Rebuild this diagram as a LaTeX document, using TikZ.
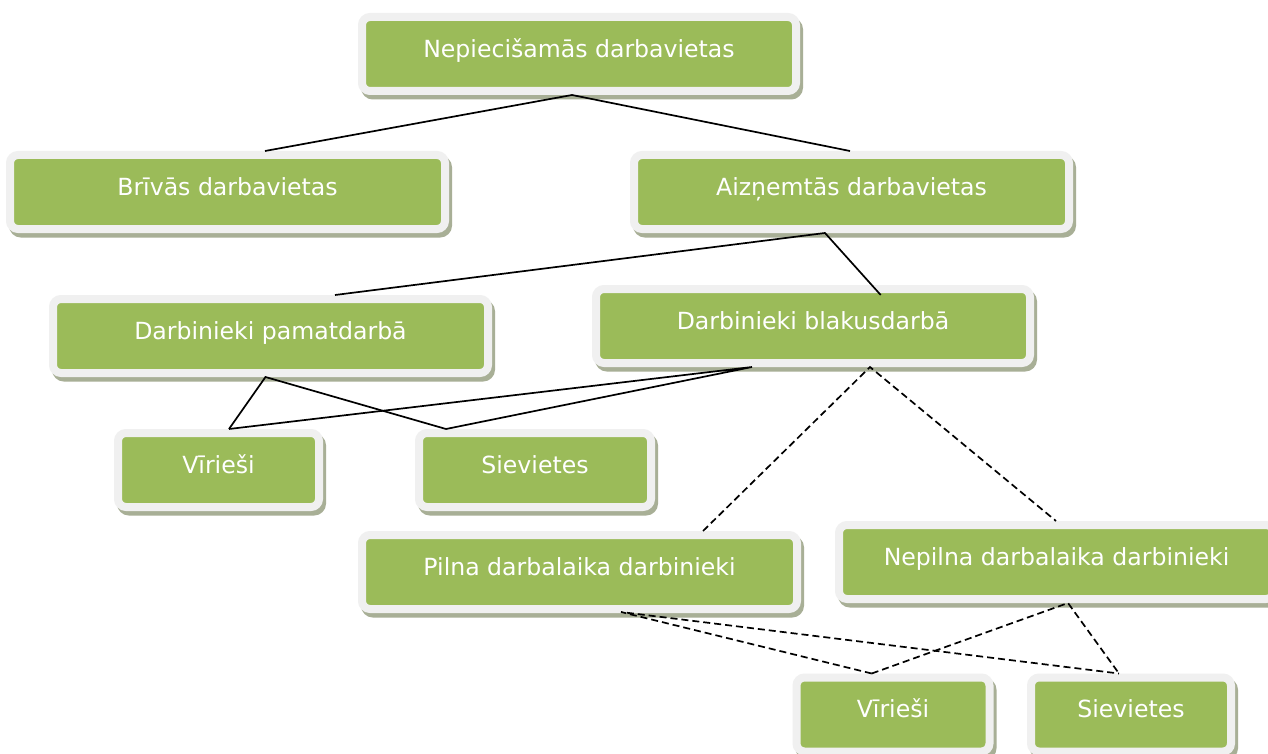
\documentclass[tikz,border=0pt]{standalone}
\usepackage{fontspec}
\setmainfont{DejaVu Sans}
\usetikzlibrary{calc}
\definecolor{boxgreen}{HTML}{9BBB59}
\definecolor{boxrim}{HTML}{F0F0F0}
\definecolor{boxshade}{HTML}{A8AF96}
\begin{document}
\begin{tikzpicture}[x=1pt,y=-1pt,
  gbox/.style={rectangle, rounded corners=8pt, fill=boxgreen, draw=boxrim, line width=8pt,
    text=white, font=\fontsize{23.6}{28}\selectfont, minimum height=74pt,
    text height=0.78em, text depth=0.14em, inner sep=0pt, anchor=center,
    preaction={draw=boxshade, fill=boxshade, line width=8pt,
      transform canvas={shift={(3pt,-4.5pt)}}}},
  link/.style={line width=1.7pt, black},
  dlink/.style={link, dash pattern=on 7pt off 4pt}]
\fill[white] (0,0) rectangle (1268,754);
\useasboundingbox (0,0) rectangle (1268,754);

\node[gbox, minimum width=434pt] (n1) at (579,54) {Nepiecišamās darbavietas};
\node[gbox, minimum width=435pt] (n2) at (227.5,192) {Brīvās darbavietas};
\node[gbox, minimum width=435pt] (n3) at (851.5,192) {Aizņemtās darbavietas};
\node[gbox, minimum width=435pt] (n4) at (270.5,336) {Darbinieki pamatdarbā};
\node[gbox, minimum width=434pt] (n5) at (813,326) {Darbinieki blakusdarbā};
\node[gbox, minimum width=201pt] (n6) at (218.5,470) {Vīrieši};
\node[gbox, minimum width=232pt] (n7) at (535,470) {Sievietes};
\node[gbox, minimum width=435pt] (n8) at (579.5,572) {Pilna darbalaika darbinieki};
\node[gbox, minimum width=435pt] (n9) at (1056.5,562) {Nepilna darbalaika darbinieki};
\node[gbox, minimum width=193pt] (n10) at (893,714.5) {Vīrieši};
\node[gbox, minimum width=200pt] (n11) at (1131,714.5) {Sievietes};

% solid connectors
\draw[link] ($(n2.north)+(37.5,0)$) -- ($(n1.south)+(-7,0)$) -- ($(n3.north)+(-1.5,0)$);
\draw[link] ($(n4.north)+(64.5,0)$) -- ($(n3.south)+(-26.5,0)$) -- ($(n5.north)+(67.7,10)$);
\draw[link] ($(n6.north)+(10.5,0)$) -- ($(n4.south)+(-5,0)$) -- ($(n7.north)+(-89,0)$);
\draw[link] ($(n6.north)+(10.5,0)$) -- ($(n5.south)+(-61,0)$) -- ($(n7.north)+(-89,0)$);

% dashed connectors
\draw[dlink] ($(n8.north)+(123.5,0)$) -- ($(n5.south)+(57,0)$) -- ($(n9.north)+(-0.5,0)$);
\draw[dlink] ($(n10.north)+(-21.3,0)$) -- ($(n8.south)+(41.5,-1)$) -- ($(n11.north)+(-12,0)$);
\draw[dlink] ($(n10.north)+(-21.3,0)$) -- ($(n9.south)+(11.5,0)$) -- ($(n11.north)+(-12,0)$);
\end{tikzpicture}
\end{document}
